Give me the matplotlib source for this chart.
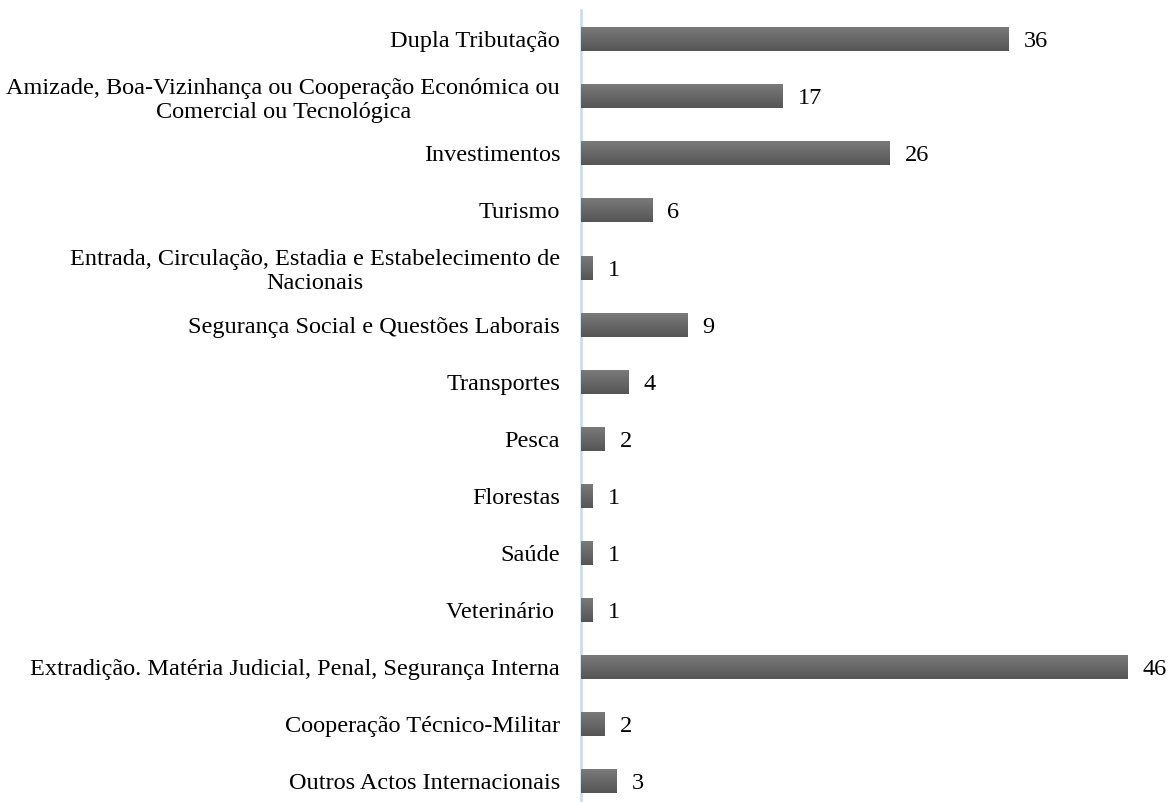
import numpy as np
import matplotlib.pyplot as plt
from matplotlib.colors import LinearSegmentedColormap

categories = [
    "Dupla Tributação",
    "Amizade, Boa-Vizinhança ou Cooperação Económica ou\nComercial ou Tecnológica",
    "Investimentos",
    "Turismo",
    "Entrada, Circulação, Estadia e Estabelecimento de\nNacionais",
    "Segurança Social e Questões Laborais",
    "Transportes",
    "Pesca",
    "Florestas",
    "Saúde",
    "Veterinário ",
    "Extradição. Matéria Judicial, Penal, Segurança Interna",
    "Cooperação Técnico-Militar",
    "Outros Actos Internacionais",
]
values = [36, 17, 26, 6, 1, 9, 4, 2, 1, 1, 1, 46, 2, 3]

plt.rcParams['font.family'] = ['Liberation Serif', 'DejaVu Serif']

fig = plt.figure(figsize=(11.7, 8.02), dpi=100)
ax = fig.add_axes([581 / 1170, 0, 1 - 581 / 1170 - 19 / 1170, 1 - 10 / 802])

pos = np.arange(len(categories))
bar_h = 0.42

# gradient fill: lighter on top, darker below
cmap = LinearSegmentedColormap.from_list("bar", ["#7a7a7a", "#555555"])
grad = np.linspace(0, 1, 64).reshape(-1, 1)
bars = ax.barh(pos, values, height=bar_h, color="#656565", zorder=2)
for rect, v in zip(bars, values):
    y0 = rect.get_y()
    ax.imshow(grad, cmap=cmap, aspect="auto", zorder=3,
              extent=[0, v, y0 + bar_h, y0], interpolation="bicubic")
    ax.text(v + 1.25, rect.get_y() + bar_h / 2, str(v), va="center_baseline", ha="left",
            fontsize=17.5, color="black")

ax.set_xlim(0, 48)
ax.set_ylim(13.36, -0.51)
ax.set_yticks(pos)
ax.set_yticklabels(categories, fontsize=17.5, multialignment="center", linespacing=1.2)
ax.tick_params(axis="y", length=0, pad=15)
ax.set_xticks([])

for s in ["top", "right", "bottom"]:
    ax.spines[s].set_visible(False)
ax.spines["left"].set_color("#c6d9f0")
ax.spines["left"].set_linewidth(1.8)

fig.savefig("out.png", dpi=100)
